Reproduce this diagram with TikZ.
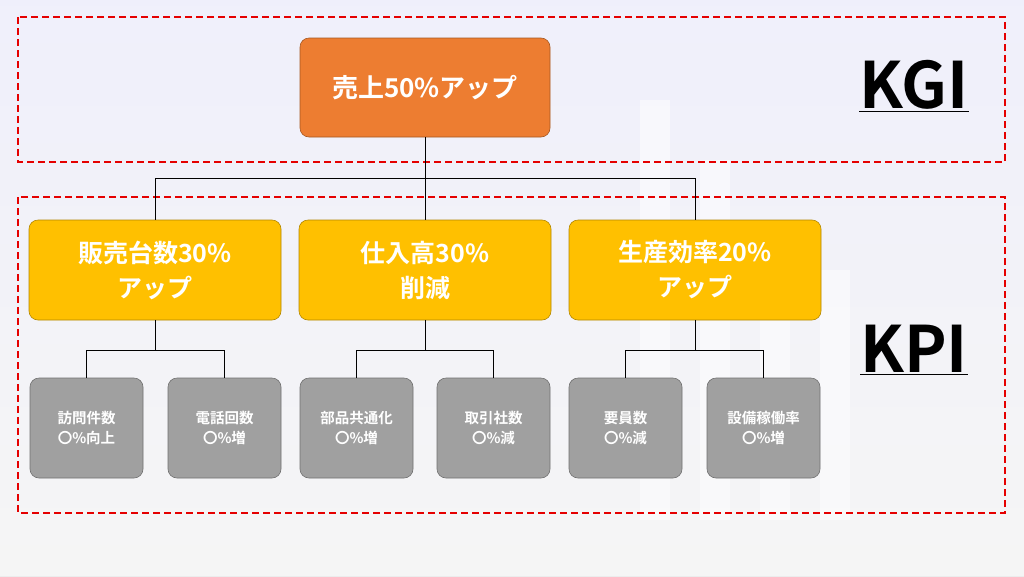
\documentclass[tikz,border=0pt]{standalone}
\usepackage{fontspec}
\usetikzlibrary{calc}
\setmainfont{Noto Sans CJK JP}[BoldFont={Noto Sans CJK JP Bold}]
\begin{document}
\begin{tikzpicture}[x=1pt,y=-1pt,
  box/.style={draw=#1!70!black,line width=0.6pt,rounded corners=9pt,text=white,font=\bfseries,align=center,inner sep=0pt},
  reddash/.style={draw=red!90!black,line width=2.2pt,dash pattern=on 7pt off 4pt},
  conn/.style={draw=black,line width=1pt}]
\definecolor{org}{HTML}{ED7D31}\definecolor{yel}{HTML}{FFC000}\definecolor{gry}{HTML}{A0A0A0}
\useasboundingbox (0,0) rectangle (1024,576);
\fill[top color=blue!60!gray!15, bottom color=gray!15] (0,0) rectangle (1024,576);
\fill[white,opacity=0.5] (0,0) rectangle (1024,576);
\foreach \x/\h in {640/300,700/360,760/420,820/470}{\fill[white,opacity=0.5] (\x,\h-200) rectangle (\x+30,520);}
\draw[reddash] (18,17) rectangle (1005,162);
\draw[reddash] (18,197) rectangle (1005,513);
\node[box=org,fill=org,minimum width=250pt,minimum height=99pt,font=\bfseries\fontsize{26}{30}\selectfont] (top) at (425,87.5) {売上50\%アップ};
\foreach \n/\x/\t in {a/155/販売台数30\%\\アップ, b/425/仕入高30\%\\削減, c/695/生産効率20\%\\アップ}{
  \node[box=yel,fill=yel,minimum width=252pt,minimum height=100pt,font=\bfseries\fontsize{25}{35}\selectfont] (\n) at (\x,270) {\t};}
\foreach \n/\x/\t in {a1/86.5/訪問件数\\〇\%向上, a2/224.5/電話回数\\〇\%増, b1/356.5/部品共通化\\〇\%増, b2/493.5/取引社数\\〇\%減, c1/625.5/要員数\\〇\%減, c2/763.5/設備稼働率\\〇\%増}{
  \node[box=gry,fill=gry,minimum width=113pt,minimum height=100pt,font=\bfseries\fontsize{14.5}{20}\selectfont] (\n) at (\x,428) {\t};}
\coordinate (j) at (425,178);
\draw[conn] (top.south) -- (j) -| (a.north); \draw[conn] (j) -| (c.north); \draw[conn] (j) -- (b.north);
\foreach \p in {a,b,c}{
  \coordinate (\p j) at ($(\p.south)+(0,30)$);
  \draw[conn] (\p.south) -- (\p j) -| (\p1.north); \draw[conn] (\p j) -| (\p2.north);}
\node[font=\bfseries\fontsize{64}{70}\selectfont] (kgi) at (914,86) {\underline{KGI}};
\node[font=\bfseries\fontsize{64}{70}\selectfont] (kpi) at (914,350) {\underline{KPI}};
\end{tikzpicture}
\end{document}
